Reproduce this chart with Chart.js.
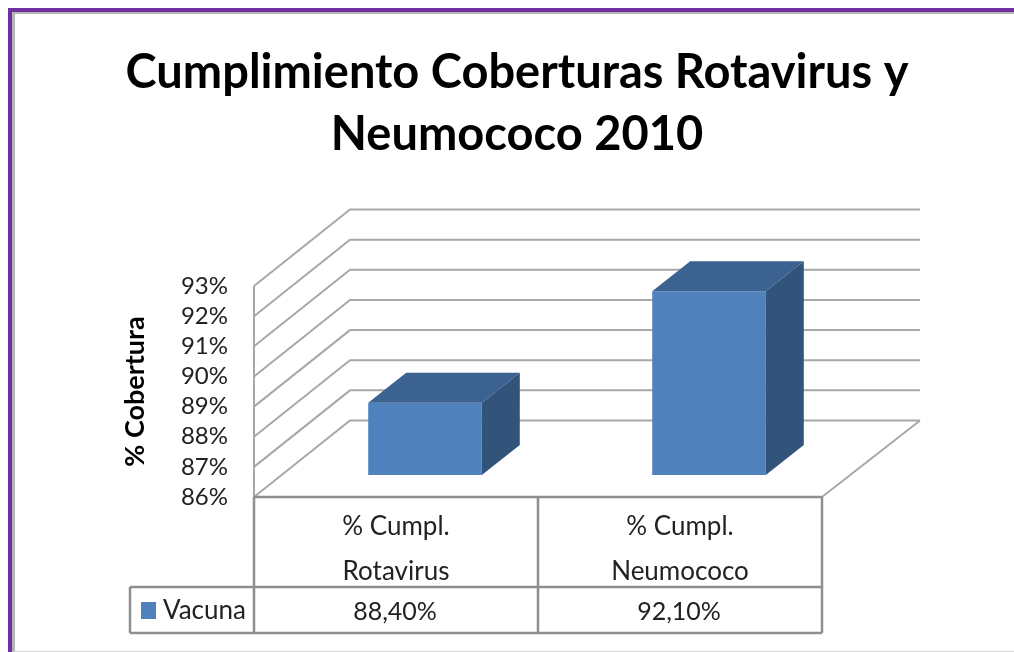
<!DOCTYPE html>
<html>
<head>
<meta charset="utf-8">
<title>Cumplimiento Coberturas</title>
<script src="https://cdn.jsdelivr.net/npm/chart.js@4"></script>
<style>
  html, body { margin: 0; padding: 0; background: #fff; overflow: hidden; }
  #wrap { position: relative; width: 1014px; height: 652px; }
  #frame {
    position: absolute; left: 8px; top: 8px; right: 0; bottom: 0;
    border-top: 4px solid #7030a0; border-left: 4px solid #7030a0;
    box-sizing: border-box;
  }
  #inner {
    position: absolute; left: 0; top: 0; right: 0; bottom: 0;
    border-top: 2px solid #b5b5b5; border-left: 3px solid #b5b5b5;
    border-bottom: 1px solid #d9d9d9;
  }
  canvas { position: absolute; left: 0; top: 0; }
</style>
</head>
<body>
<div id="wrap">
  <div id="frame"><div id="inner"></div></div>
  <canvas id="chartCanvas" width="1014" height="652"></canvas>
</div>
<script>
const titleLines = ['Cumplimiento Coberturas Rotavirus y', 'Neumococo 2010'];
const categories = [['% Cumpl.', 'Rotavirus'], ['% Cumpl.', 'Neumococo']];
const seriesName = 'Vacuna';
const seriesValues = [88.4, 92.1];
const axisTitle = '% Cobertura';
const axisMin = 86;
const axisMax = 93;

const fontName = 'Lato, "Open Sans", sans-serif';
const textColor = '#222';
const gridColor = '#a8a8a8';
const tableColor = '#8e8e8e';

// 3D look: how far the back wall and the bars are pushed back
const wallDx = 96, wallDy = -76.5, wallExtra = 2;
const barDx = 29, barDy = -22;
const depthDx = 38, depthDy = -30;
const legendLeft = 130, tableBottom = 633, rowTop = 587;

const line = (ctx, pts, color, width) => {
  ctx.beginPath();
  pts.forEach((p, i) => (i ? ctx.lineTo(p[0], p[1]) : ctx.moveTo(p[0], p[1])));
  ctx.strokeStyle = color;
  ctx.lineWidth = width;
  ctx.stroke();
};

const poly = (ctx, pts, color) => {
  ctx.beginPath();
  pts.forEach((p, i) => (i ? ctx.lineTo(p[0], p[1]) : ctx.moveTo(p[0], p[1])));
  ctx.closePath();
  ctx.fillStyle = color;
  ctx.fill();
};

const wallsPlugin = {
  id: 'walls',
  afterLayout(chart) {
    // title is centred on the picture, not on the plot
    chart.titleBlock.left = 20;
    chart.titleBlock.right = chart.width;
  },
  beforeDatasetsDraw(chart) {
    const { ctx, scales: { x, y } } = chart;
    const left = x.left, right = x.right;
    const backRight = right + wallDx + wallExtra;
    for (let v = axisMin; v <= axisMax; v++) {
      const py = y.getPixelForValue(v);
      line(ctx, [[left, py], [left + wallDx, py + wallDy], [backRight, py + wallDy]], gridColor, 2);
    }
    const floor = y.getPixelForValue(axisMin);
    line(ctx, [[right, floor], [backRight, floor + wallDy]], gridColor, 2);
    line(ctx, [[left, y.getPixelForValue(axisMax)], [left, floor]], gridColor, 2);
  },
  beforeDatasetDraw(chart) {
    chart.ctx.save();
    chart.ctx.translate(barDx, barDy);
  },
  afterDatasetDraw(chart, args) {
    const ctx = chart.ctx;
    args.meta.data.forEach((bar) => {
      const l = bar.x - bar.width / 2, r = bar.x + bar.width / 2;
      poly(ctx, [[l, bar.y], [l + depthDx, bar.y + depthDy], [r + depthDx, bar.y + depthDy], [r, bar.y]], '#3b6290');
      poly(ctx, [[r, bar.y], [r + depthDx, bar.y + depthDy], [r + depthDx, bar.base + depthDy], [r, bar.base]], '#32547b');
    });
    ctx.restore();
  },
  afterDraw(chart) {
    const { ctx, scales: { x, y } } = chart;
    const top = y.getPixelForValue(axisMin);
    const mid = (x.getPixelForValue(0) + x.getPixelForValue(1)) / 2;

    // data table under the plot
    line(ctx, [[x.left, top], [x.right, top]], tableColor, 2.5);
    line(ctx, [[x.left, top], [x.left, tableBottom]], tableColor, 2.5);
    line(ctx, [[mid, top], [mid, tableBottom]], tableColor, 2.5);
    line(ctx, [[x.right, top], [x.right, tableBottom]], tableColor, 2.5);
    line(ctx, [[legendLeft, rowTop], [x.right, rowTop]], tableColor, 2.5);
    line(ctx, [[legendLeft, tableBottom], [x.right, tableBottom]], tableColor, 2.5);
    line(ctx, [[legendLeft, rowTop], [legendLeft, tableBottom]], tableColor, 2.5);

    ctx.fillStyle = '#4f81bd';
    ctx.fillRect(141, 602, 15, 17);

    ctx.fillStyle = textColor;
    ctx.textBaseline = 'middle';
    ctx.textAlign = 'left';
    ctx.font = '26px ' + fontName;
    ctx.fillText(chart.data.datasets[0].label, 163, 611);
    ctx.textAlign = 'center';
    ctx.font = '25px ' + fontName;
    seriesValues.forEach((v, i) => {
      ctx.fillText(v.toFixed(2).replace('.', ',') + '%', x.getPixelForValue(i) - 1, 612);
    });
  }
};

document.addEventListener('DOMContentLoaded', () => {
  const ctx = document.getElementById('chartCanvas').getContext('2d');

  new Chart(ctx, {
    type: 'bar',
    data: {
      labels: categories,
      datasets: [{
        label: seriesName,
        data: seriesValues,
        base: axisMin,
        backgroundColor: '#4f81bd',
        categoryPercentage: 1,
        barPercentage: 0.4,
        clip: false
      }]
    },
    options: {
      responsive: false,
      animation: false,
      layout: { padding: { left: 0, right: 192, top: 0, bottom: 0 } },
      plugins: {
        legend: { display: false },
        tooltip: { enabled: false },
        title: {
          display: true,
          text: titleLines,
          color: '#000',
          font: { family: fontName, size: 47, weight: 'bold', lineHeight: 1.32 },
          padding: { top: 42, bottom: 120 }
        }
      },
      scales: {
        x: {
          grid: { display: false, drawTicks: false },
          border: { display: false },
          ticks: {
            color: textColor,
            maxRotation: 0,
            autoSkip: false,
            padding: 7,
            font: { family: fontName, size: 26, lineHeight: 1.73 }
          },
          afterFit(scale) { scale.height = 155; }
        },
        y: {
          min: axisMin,
          max: axisMax,
          grid: { display: false, drawTicks: false },
          border: { display: false },
          ticks: {
            stepSize: 1,
            autoSkip: false,
            color: textColor,
            padding: 26,
            font: { family: fontName, size: 24 },
            callback: (v) => v + '%'
          },
          title: {
            display: true,
            text: axisTitle,
            color: '#000',
            font: { family: fontName, size: 27, weight: 'bold' },
            padding: { top: 119, bottom: 0 }
          },
          afterFit(scale) { scale.width = 254; }
        }
      }
    },
    plugins: [wallsPlugin]
  });
});
</script>
</body>
</html>
